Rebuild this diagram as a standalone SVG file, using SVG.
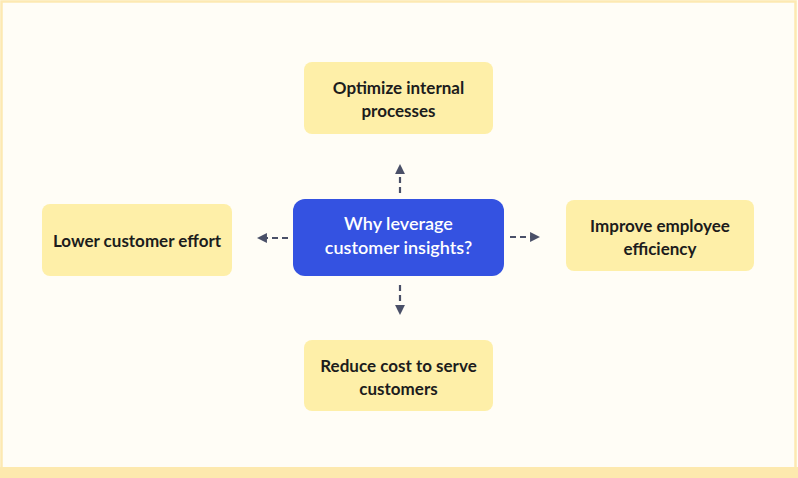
<svg xmlns="http://www.w3.org/2000/svg" width="798" height="478" viewBox="0 0 798 478">
<style>
.bg{fill:#FFFDF6}
.frame{fill:none;stroke:#FDE9B2;stroke-width:2.5}
.box{fill:#FEEFA8}
.center{fill:#3452E1}
.t{font-family:Lato,"Noto Sans",sans-serif;font-weight:700;font-size:17px;fill:#1C1C1C;text-anchor:middle}
.tw{font-family:Lato,"Noto Sans",sans-serif;font-weight:600;font-size:18px;fill:#FFFFFF;text-anchor:middle}
.c{fill:none;stroke:#4A5068;stroke-width:2.2;stroke-dasharray:6 4}
</style>
<defs>
<marker id="ah" viewBox="0 0 10 10" refX="8" refY="5" markerWidth="4.5" markerHeight="4.5" orient="auto" markerUnits="strokeWidth">
<path d="M0,0 L10,5 L0,10 z" fill="#4A5068"/>
</marker>
</defs>
<rect class="bg" x="0" y="0" width="798" height="478"/>
<rect class="frame" x="1.5" y="1.5" width="794" height="470"/>
<rect x="0" y="467" width="798" height="11" fill="#FDE9AE"/>
<g id="connectors">
<path class="c" d="M400,193 L400,166" marker-end="url(#ah)"/>
<path class="c" d="M510,237 L538,237" marker-end="url(#ah)"/>
<path class="c" d="M400,285 L400,313" marker-end="url(#ah)"/>
<path class="c" d="M288,238 L259,238" marker-end="url(#ah)"/>
</g>
<g id="n-center">
<rect class="center" x="293" y="199" width="211" height="77" rx="12"/>
<text class="tw" x="398.5" y="230">Why leverage</text>
<text class="tw" x="398.5" y="254">customer insights?</text>
</g>
<g id="n-top">
<rect class="box" x="304" y="62" width="189" height="72" rx="8"/>
<text class="t" x="398.5" y="94">Optimize internal</text>
<text class="t" x="398.5" y="117">processes</text>
</g>
<g id="n-left">
<rect class="box" x="42" y="204" width="190" height="72" rx="8"/>
<text class="t" x="137" y="247">Lower customer effort</text>
</g>
<g id="n-right">
<rect class="box" x="566" y="200" width="188" height="71" rx="8"/>
<text class="t" x="660" y="232">Improve employee</text>
<text class="t" x="660" y="255">efficiency</text>
</g>
<g id="n-bottom">
<rect class="box" x="304" y="340" width="189" height="71" rx="8"/>
<text class="t" x="398.5" y="372">Reduce cost to serve</text>
<text class="t" x="398.5" y="395">customers</text>
</g>
</svg>
